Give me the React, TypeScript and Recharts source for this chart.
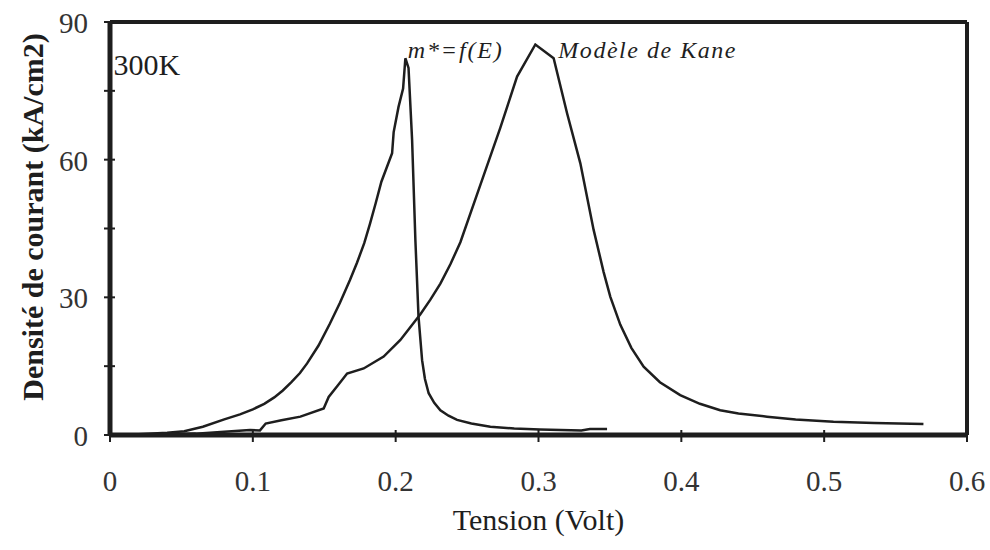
import React from "react";
import { Label, Line, LineChart, ReferenceDot, ReferenceLine, XAxis, YAxis } from "recharts";

// m* = f(E) curve: tension (V) / current density (kA/cm2)
const massV = [0, 0.02, 0.04, 0.052, 0.065, 0.08, 0.091, 0.1, 0.108, 0.115, 0.121, 0.127, 0.133, 0.138, 0.146, 0.154, 0.161, 0.168, 0.173, 0.178, 0.182, 0.186, 0.19, 0.194, 0.1975, 0.1986, 0.202, 0.2052, 0.2068, 0.209, 0.2115, 0.2138, 0.216, 0.2185, 0.2205, 0.2231, 0.227, 0.2313, 0.237, 0.243, 0.253, 0.2663, 0.283, 0.301, 0.33, 0.336, 0.348];
const massJ = [0, 0.15, 0.5, 0.8, 1.8, 3.4, 4.5, 5.6, 6.8, 8.2, 9.7, 11.5, 13.5, 15.6, 19.5, 24.3, 28.8, 33.8, 37.6, 41.8, 46, 50.5, 55.2, 58.5, 61.4, 66.0, 71.5, 75.5, 82.1, 80.0, 64.3, 42.5, 25.8, 16.3, 12.2, 9.1, 7.0, 5.4, 4.2, 3.3, 2.5, 1.8, 1.4, 1.2, 1.0, 1.3, 1.3];

// Kane model curve
const kaneV = [0, 0.03, 0.06, 0.08, 0.098, 0.105, 0.109, 0.12, 0.1333, 0.1496, 0.1531, 0.16, 0.166, 0.1776, 0.1916, 0.2033, 0.2173, 0.2243, 0.2313, 0.2383, 0.2453, 0.2593, 0.2733, 0.285, 0.2978, 0.3106, 0.32, 0.3293, 0.3386, 0.3456, 0.3503, 0.3573, 0.365, 0.3736, 0.385, 0.3992, 0.413, 0.4272, 0.44, 0.46, 0.48, 0.5065, 0.535, 0.5695];
const kaneJ = [0, 0.1, 0.3, 0.7, 1.1, 1.0, 2.5, 3.2, 4.0, 5.8, 8.3, 11, 13.4, 14.5, 17.1, 20.7, 26.3, 29.5, 33, 37.2, 42.0, 54.5, 67, 78.1, 85.1, 82.1, 70.1, 59.2, 44.7, 35.5, 30.1, 24.0, 19.0, 14.9, 11.5, 8.7, 6.8, 5.4, 4.7, 4.0, 3.4, 2.9, 2.6, 2.4];

const xTicks = [0, 0.1, 0.2, 0.3, 0.4, 0.5, 0.6];
const yTicks = [0, 15, 30, 45, 60, 75, 90];
const yLabelled = [0, 30, 60, 90];

const massData = massV.map((v, i) => ({ v, j: massJ[i] }));
const kaneData = kaneV.map((v, i) => ({ v, j: kaneJ[i] }));

const ink = "#1e1e1e";
const serif = "'Liberation Serif', 'Times New Roman', serif";

function XTick({ x, y, payload }: any) {
  return (
    <g>
      <line x1={x} x2={x} y1={y - 5} y2={y + 7} stroke={ink} strokeWidth={2} />
      <text x={x} y={y + 46} textAnchor="middle" dominantBaseline="central" fontSize={29} fill="#333" fontFamily={serif}>
        {payload.value}
      </text>
    </g>
  );
}

function YTick({ x, y, payload }: any) {
  return (
    <g>
      <line x1={x - 6} x2={x + 5} y1={y} y2={y} stroke={ink} strokeWidth={2} />
      {yLabelled.includes(payload.value) && (
        <text x={x - 22} y={y + 1} textAnchor="end" dominantBaseline="central" fontSize={29} fill="#333" fontFamily={serif}>
          {payload.value}
        </text>
      )}
    </g>
  );
}

function note(text: string, size: number, italic: boolean, length?: number) {
  return ({ viewBox }: any) => (
    <text
      x={viewBox.x}
      y={viewBox.y}
      fontSize={size}
      fontStyle={italic ? "italic" : "normal"}
      fill={ink}
      fontFamily={serif}
      textLength={length}
    >
      {text}
    </text>
  );
}

export default function App() {
  return (
    <div style={{ position: "absolute", left: 0, top: 0, width: 990, height: 550, background: "#fff" }}>
      <LineChart width={990} height={550} data={kaneData} margin={{ top: 22, right: 23, left: 70, bottom: 75 }}>
        <XAxis
          dataKey="v"
          type="number"
          domain={[0, 0.6]}
          ticks={xTicks}
          interval={0}
          height={40}
          tickSize={0}
          tickMargin={0}
          tickLine={false}
          tick={<XTick />}
          axisLine={{ stroke: ink, strokeWidth: 5 }}
        >
          <Label
            content={({ viewBox }: any) => (
              <text x={viewBox.x + viewBox.width / 2} y={viewBox.y + 95} textAnchor="middle" fontSize={30} fill={ink} fontFamily={serif}>
                Tension (Volt)
              </text>
            )}
          />
        </XAxis>
        <YAxis
          type="number"
          domain={[0, 90]}
          ticks={yTicks}
          interval={0}
          width={40}
          tickSize={0}
          tickMargin={0}
          tickLine={false}
          tick={<YTick />}
          axisLine={{ stroke: ink, strokeWidth: 5 }}
        >
          <Label
            content={({ viewBox }: any) => {
              const cx = viewBox.x - 27;
              const cy = viewBox.y + 195;
              return (
                <text x={cx} y={cy} transform={`rotate(-90, ${cx}, ${cy})`} textAnchor="middle" fontSize={30} fontWeight="bold" fill={ink} fontFamily={serif}>
                  Densité de courant (kA/cm2)
                </text>
              );
            }}
          />
        </YAxis>
        {/* top and right sides of the frame */}
        <ReferenceLine y={90} stroke={ink} strokeWidth={4} />
        <ReferenceLine x={0.6} stroke={ink} strokeWidth={4} />
        <Line data={massData} dataKey="j" type="linear" stroke={ink} strokeWidth={2.5} dot={false} isAnimationActive={false} />
        <Line data={kaneData} dataKey="j" type="linear" stroke={ink} strokeWidth={2.5} dot={false} isAnimationActive={false} />
        <ReferenceDot x={0.0025} y={78.4} r={0} stroke="none" fill="none" label={<Label content={note("300K", 30, false)} />} />
        <ReferenceDot x={0.2085} y={82.1} r={0} stroke="none" fill="none" label={<Label content={note("m*=f(E)", 24, true, 94)} />} />
        <ReferenceDot x={0.3139} y={82.1} r={0} stroke="none" fill="none" label={<Label content={note("Modèle de Kane", 24, true, 177)} />} />
      </LineChart>
    </div>
  );
}
